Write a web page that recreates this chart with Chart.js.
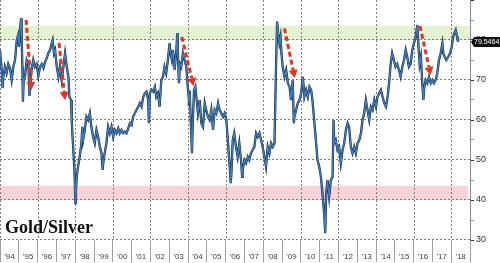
<!DOCTYPE html>
<html>
<head>
<meta charset="utf-8">
<script src="https://cdn.jsdelivr.net/npm/chart.js@4.4.1/dist/chart.umd.min.js"></script>
<style>
html, body { margin: 0; padding: 0; background: #fff; }
</style>
</head>
<body>
<canvas id="chart" width="500" height="263"></canvas>
<script>
// decimal year of each reading, and the gold/silver ratio at that time
const years = [
  1994.00, 1994.09, 1994.14, 1994.18, 1994.26, 1994.35, 1994.44, 1994.53, 1994.62, 1994.71, 1994.80, 1994.89, 1994.97,
  1995.01, 1995.06, 1995.12, 1995.15, 1995.19, 1995.22, 1995.26, 1995.33, 1995.42, 1995.51, 1995.57, 1995.62, 1995.68, 1995.77, 1995.86, 1995.95,
  1996.04, 1996.13, 1996.22, 1996.31, 1996.40, 1996.48, 1996.57, 1996.66, 1996.75, 1996.80, 1996.87, 1996.93,
  1997.02, 1997.11, 1997.19, 1997.28, 1997.37, 1997.46, 1997.55, 1997.64, 1997.69, 1997.78, 1997.82, 1997.90, 1997.96,
  1998.01, 1998.04, 1998.08, 1998.15, 1998.24, 1998.33, 1998.38, 1998.42, 1998.51, 1998.60, 1998.69, 1998.78, 1998.86, 1998.95,
  1999.04, 1999.13, 1999.22, 1999.31, 1999.40, 1999.46, 1999.49, 1999.57, 1999.66, 1999.75, 1999.84, 1999.93,
  2000.02, 2000.11, 2000.20, 2000.29, 2000.37, 2000.46, 2000.55, 2000.64, 2000.73, 2000.82, 2000.91,
  2001.00, 2001.08, 2001.17, 2001.26, 2001.35, 2001.44, 2001.53, 2001.62, 2001.71, 2001.79, 2001.88, 2001.92, 2001.97,
  2002.06, 2002.15, 2002.24, 2002.31, 2002.40, 2002.49, 2002.58, 2002.67, 2002.75, 2002.84, 2002.93,
  2003.02, 2003.07, 2003.14, 2003.20, 2003.29, 2003.38, 2003.43, 2003.46, 2003.52, 2003.57, 2003.64, 2003.73, 2003.82, 2003.91,
  2004.00, 2004.05, 2004.10, 2004.17, 2004.21, 2004.26, 2004.32, 2004.39, 2004.46, 2004.53, 2004.62, 2004.71, 2004.80, 2004.89, 2004.97,
  2005.06, 2005.15, 2005.24, 2005.33, 2005.42, 2005.51, 2005.60, 2005.68, 2005.77, 2005.86, 2005.95,
  2006.04, 2006.13, 2006.22, 2006.27, 2006.31, 2006.38, 2006.46, 2006.55, 2006.64, 2006.73, 2006.82, 2006.88, 2006.91,
  2007.00, 2007.09, 2007.18, 2007.26, 2007.35, 2007.44, 2007.53, 2007.62, 2007.71, 2007.80, 2007.89, 2007.97,
  2008.06, 2008.15, 2008.24, 2008.33, 2008.42, 2008.51, 2008.60, 2008.65, 2008.69, 2008.74, 2008.79, 2008.86, 2008.92, 2008.97,
  2009.04, 2009.13, 2009.22, 2009.31, 2009.40, 2009.48, 2009.57, 2009.63, 2009.66, 2009.75, 2009.84, 2009.93,
  2010.02, 2010.11, 2010.19, 2010.28, 2010.37, 2010.46, 2010.55, 2010.62, 2010.71, 2010.80, 2010.89, 2010.98,
  2011.07, 2011.15, 2011.24, 2011.30, 2011.35, 2011.42, 2011.51, 2011.60, 2011.69, 2011.74, 2011.78, 2011.86, 2011.95,
  2012.04, 2012.13, 2012.22, 2012.31, 2012.40, 2012.49, 2012.57, 2012.66, 2012.75, 2012.84, 2012.93,
  2013.02, 2013.11, 2013.20, 2013.28, 2013.37, 2013.46, 2013.55, 2013.64, 2013.73, 2013.82, 2013.91,
  2014.00, 2014.08, 2014.17, 2014.26, 2014.35, 2014.44, 2014.53, 2014.62, 2014.71, 2014.78, 2014.86, 2014.95,
  2015.04, 2015.13, 2015.22, 2015.31, 2015.40, 2015.49, 2015.58, 2015.66, 2015.75, 2015.84, 2015.93,
  2016.02, 2016.11, 2016.20, 2016.25, 2016.32, 2016.39, 2016.46, 2016.52, 2016.57, 2016.64, 2016.73, 2016.82, 2016.91,
  2017.00, 2017.08, 2017.17, 2017.26, 2017.35, 2017.44, 2017.53, 2017.58, 2017.65, 2017.74, 2017.85, 2017.94,
  2018.03, 2018.10, 2018.17, 2018.24, 2018.31, 2018.36
];
const ratio = [
  77.5, 72.5, 68, 70.8, 73.3, 71.7, 74, 73, 70, 73.3, 75, 80, 81.25,
  78.3, 82, 85.4, 80.8, 73.3, 64.6, 70, 70.8, 75, 74, 66, 69.2, 72.5, 75, 73.3, 74,
  71, 73.3, 74, 73, 74.6, 75.4, 76.7, 77.5, 79.2, 80, 76.7, 77.5,
  73.3, 70.8, 73.3, 70, 73.3, 76.7, 73.3, 70.8, 65.8, 65, 59.2, 52.5, 47.5,
  39.2, 42, 45.8, 48.3, 50.8, 54.2, 58.3, 55, 57.5, 60.8, 60, 61.7, 58.3, 55.8,
  54.2, 57.5, 55.8, 53.3, 51.7, 47.5, 49.2, 51.7, 54.2, 58.3, 56.7, 58.3,
  55.8, 57.5, 56.7, 57.9, 56.7, 57.5, 56.7, 57.1, 56.7, 57.9, 59.2,
  58.75, 60.8, 61.7, 62.5, 63.3, 64.2, 63.3, 65.8, 66.7, 67.1, 65, 59.2, 66.7,
  67.5, 67.1, 68.3, 65.8, 66.7, 63.3, 70, 70.8, 73.3, 71.7, 75,
  79.2, 76.7, 75, 77.5, 72.5, 77.5, 81.7, 76.7, 69.2, 74, 73.3, 76.7, 75, 73.3,
  67.5, 65, 65.8, 56.7, 51.7, 60, 67.5, 68.3, 65, 61.7, 65, 59.2, 58.3, 64.2, 62.5,
  60.8, 60, 62.5, 57.5, 62.5, 61.7, 64.2, 62.5, 61.7, 60.8, 61.7,
  60, 54.2, 48.3, 44.2, 46.7, 55, 56.7, 53.3, 50.8, 54.2, 50, 45.8, 47.5,
  50, 49.2, 50.8, 50, 51.7, 52.5, 53.3, 56.7, 55.8, 56.7, 55, 53.3,
  50.8, 48.3, 53.3, 51.7, 54.2, 53.3, 54.2, 65.8, 75, 84.6, 81.7, 79.2, 80.8, 76.7,
  73.3, 70.8, 72.5, 69.2, 68.3, 65, 70, 59.2, 60.8, 62.5, 64.2, 65,
  66.7, 70.8, 65.8, 67.5, 65.8, 68.3, 67.5, 65, 60, 55, 50, 48.3,
  45.8, 41.7, 36.7, 31.7, 41.7, 45, 40.8, 45, 45.8, 60, 54.2, 55, 52.5,
  53.3, 49.2, 52.5, 54.2, 57.5, 59.2, 58.3, 53.3, 51.7, 53.3, 51.7,
  54.2, 55, 56.7, 60, 61.7, 65, 62.5, 60, 63.3, 62.5, 65,
  63.3, 65.8, 66.7, 67.5, 65.8, 64.2, 63.3, 65.8, 70, 74, 76.7, 75,
  73.3, 74, 72.5, 70.8, 73.3, 75, 77.5, 75.8, 73.3, 74, 77.5,
  79.2, 80.8, 83.75, 79.2, 74, 75.8, 69.2, 65, 68.3, 70, 69.2, 70.8, 69.2,
  70, 69.2, 70, 71.7, 75, 76.7, 79.2, 76.7, 75.8, 75, 75.8, 76.7,
  78.3, 80.8, 81.7, 82.5, 80.8, 79.5464
];
const yearLabels = ["'94", "'95", "'96", "'97", "'98", "'99", "'00", "'01", "'02", "'03", "'04", "'05", "'06",
  "'07", "'08", "'09", "'10", "'11", "'12", "'13", "'14", "'15", "'16", "'17", "'18"];

// shaded zones (value ranges)
const highBand = [80, 83.5];
const lowBand = [40, 43.5];

// red dashed arrows: start and tip, in (year, ratio)
const arrowFromYear = [1995.39, 1997.14, 2003.67, 2009.13, 2016.34];
const arrowFromVal = [85, 79.25, 80.8, 82.9, 83.5];
const arrowToYear = [1995.67, 1997.46, 2004.3, 2009.68, 2016.91];
const arrowToVal = [67.5, 65, 68.5, 70.5, 71.25];

const titleText = 'Gold/Silver';
const lastText = '79.5464';

const points = years.map((t, i) => ({ x: t, y: ratio[i] }));

const gridGray = '#7f7f7f';

function drawGrid(chart) {
    const { ctx, chartArea: a, scales } = chart;
    const x2 = scales.x2, y = scales.y;
    const band = x2.getPixelForTick(1) - x2.getPixelForTick(0);
    ctx.save();
    ctx.strokeStyle = gridGray;
    ctx.lineWidth = 1;
    ctx.setLineDash([2, 2]);
    for (let i = 0; i < y.ticks.length; i++) {
        const v = y.ticks[i].value;
        if (v % 10 !== 0 || v >= 90) continue;
        const py = Math.round(y.getPixelForValue(v)) - 0.5;
        ctx.beginPath();
        ctx.moveTo(a.left, py);
        ctx.lineTo(a.right, py);
        ctx.stroke();
    }
    for (let i = 0; i < yearLabels.length; i += 2) {
        const px = Math.round(x2.getPixelForTick(i) - band / 2) + 0.5;
        ctx.beginPath();
        ctx.moveTo(px, a.top);
        ctx.lineTo(px, a.bottom);
        ctx.stroke();
    }
    ctx.restore();
}

const overlay = {
    id: 'overlay',
    beforeDraw(chart) {
        const { ctx, chartArea: a, scales: { y } } = chart;
        ctx.save();
        ctx.fillStyle = '#e2f3d2';
        let t = y.getPixelForValue(highBand[1]), b = y.getPixelForValue(highBand[0]);
        ctx.fillRect(a.left, t, a.right - a.left, b - t);
        ctx.fillStyle = '#f9d3d8';
        t = y.getPixelForValue(lowBand[1]); b = y.getPixelForValue(lowBand[0]);
        ctx.fillRect(a.left, t, a.right - a.left - 2, b - t);
        ctx.restore();
        drawGrid(chart);
    },
    afterDatasetsDraw(chart) {
        const { ctx, scales: { x, y } } = chart;
        ctx.save();
        ctx.strokeStyle = '#e8321e';
        ctx.fillStyle = '#e8321e';
        for (let i = 0; i < arrowFromYear.length; i++) {
            const x1 = x.getPixelForValue(arrowFromYear[i]), y1 = y.getPixelForValue(arrowFromVal[i]);
            const x2 = x.getPixelForValue(arrowToYear[i]), y2 = y.getPixelForValue(arrowToVal[i]);
            const ang = Math.atan2(y2 - y1, x2 - x1);
            const head = 8;
            const bx = x2 - Math.cos(ang) * head, by = y2 - Math.sin(ang) * head;
            ctx.lineWidth = 3;
            ctx.setLineDash([5, 3]);
            ctx.beginPath();
            ctx.moveTo(x1, y1);
            ctx.lineTo(bx, by);
            ctx.stroke();
            ctx.setLineDash([]);
            ctx.beginPath();
            ctx.moveTo(x2, y2);
            ctx.lineTo(bx + Math.sin(ang) * 4.5, by - Math.cos(ang) * 4.5);
            ctx.lineTo(bx - Math.sin(ang) * 4.5, by + Math.cos(ang) * 4.5);
            ctx.closePath();
            ctx.fill();
        }
        ctx.restore();
    },
    afterDraw(chart) {
        const { ctx, chartArea: a, scales: { y } } = chart;
        ctx.save();
        ctx.font = 'bold 18px "Liberation Serif"';
        ctx.fillStyle = '#111';
        ctx.textBaseline = 'alphabetic';
        ctx.fillText(titleText, 5, 233);

        const ly = Math.round(y.getPixelForValue(ratio[ratio.length - 1]));
        ctx.fillStyle = '#111';
        ctx.beginPath();
        ctx.moveTo(a.right + 1, ly);
        ctx.lineTo(a.right + 4, ly - 5);
        ctx.lineTo(500, ly - 5);
        ctx.lineTo(500, ly + 5);
        ctx.lineTo(a.right + 4, ly + 5);
        ctx.closePath();
        ctx.fill();
        ctx.fillStyle = '#fff';
        ctx.font = '7px "Liberation Sans Narrow", "Liberation Sans"';
        ctx.textBaseline = 'middle';
        ctx.fillText(lastText, a.right + 4, ly + 0.5);
        ctx.restore();
    }
};

new Chart(document.getElementById('chart').getContext('2d'), {
    type: 'line',
    data: {
        datasets: [
            {
                data: points,
                xAxisID: 'x',
                yAxisID: 'y',
                borderColor: '#3b80c6',
                borderWidth: 1.3,
                pointRadius: 0,
                tension: 0,
                order: 0
            },
            {
                data: points,
                xAxisID: 'x',
                yAxisID: 'y',
                borderColor: '#1b2735',
                borderWidth: 2.3,
                pointRadius: 0,
                tension: 0,
                order: 1
            }
        ]
    },
    options: {
        responsive: false,
        animation: false,
        layout: { padding: 0 },
        plugins: {
            legend: { display: false },
            tooltip: { enabled: false }
        },
        scales: {
            x: {
                type: 'linear',
                min: 1994,
                max: 2019,
                display: false
            },
            x2: {
                type: 'category',
                position: 'bottom',
                labels: yearLabels,
                offset: true,
                grid: {
                    offset: true,
                    drawOnChartArea: false,
                    tickColor: '#a0a0a0',
                    tickLength: 22,
                    lineWidth: 1
                },
                border: { display: false },
                ticks: {
                    autoSkip: false,
                    maxRotation: 0,
                    minRotation: 0,
                    padding: -10,
                    color: '#444',
                    font: { size: 8, family: 'Liberation Sans' }
                },
                afterFit(s) {
                    s.height = 23;
                    s.paddingLeft = 0;
                    s.paddingRight = 0;
                }
            },
            y: {
                position: 'right',
                min: 30,
                max: 90,
                ticks: {
                    stepSize: 5,
                    autoSkip: false,
                    padding: 2,
                    color: '#333',
                    font: { size: 9, family: 'Liberation Sans' },
                    callback: v => (v % 10 === 0 && v < 90) ? v : ''
                },
                grid: {
                    drawOnChartArea: false,
                    tickColor: c => (c.tick && c.tick.value % 10 === 0) ? '#333' : '#999',
                    tickLength: 4,
                    lineWidth: 1
                },
                border: { display: true, color: '#8a8a8a', width: 1 },
                afterFit(s) {
                    s.width = 30;
                    s.paddingTop = 0;
                    s.paddingBottom = 0;
                }
            }
        }
    },
    plugins: [overlay]
});
</script>
</body>
</html>
